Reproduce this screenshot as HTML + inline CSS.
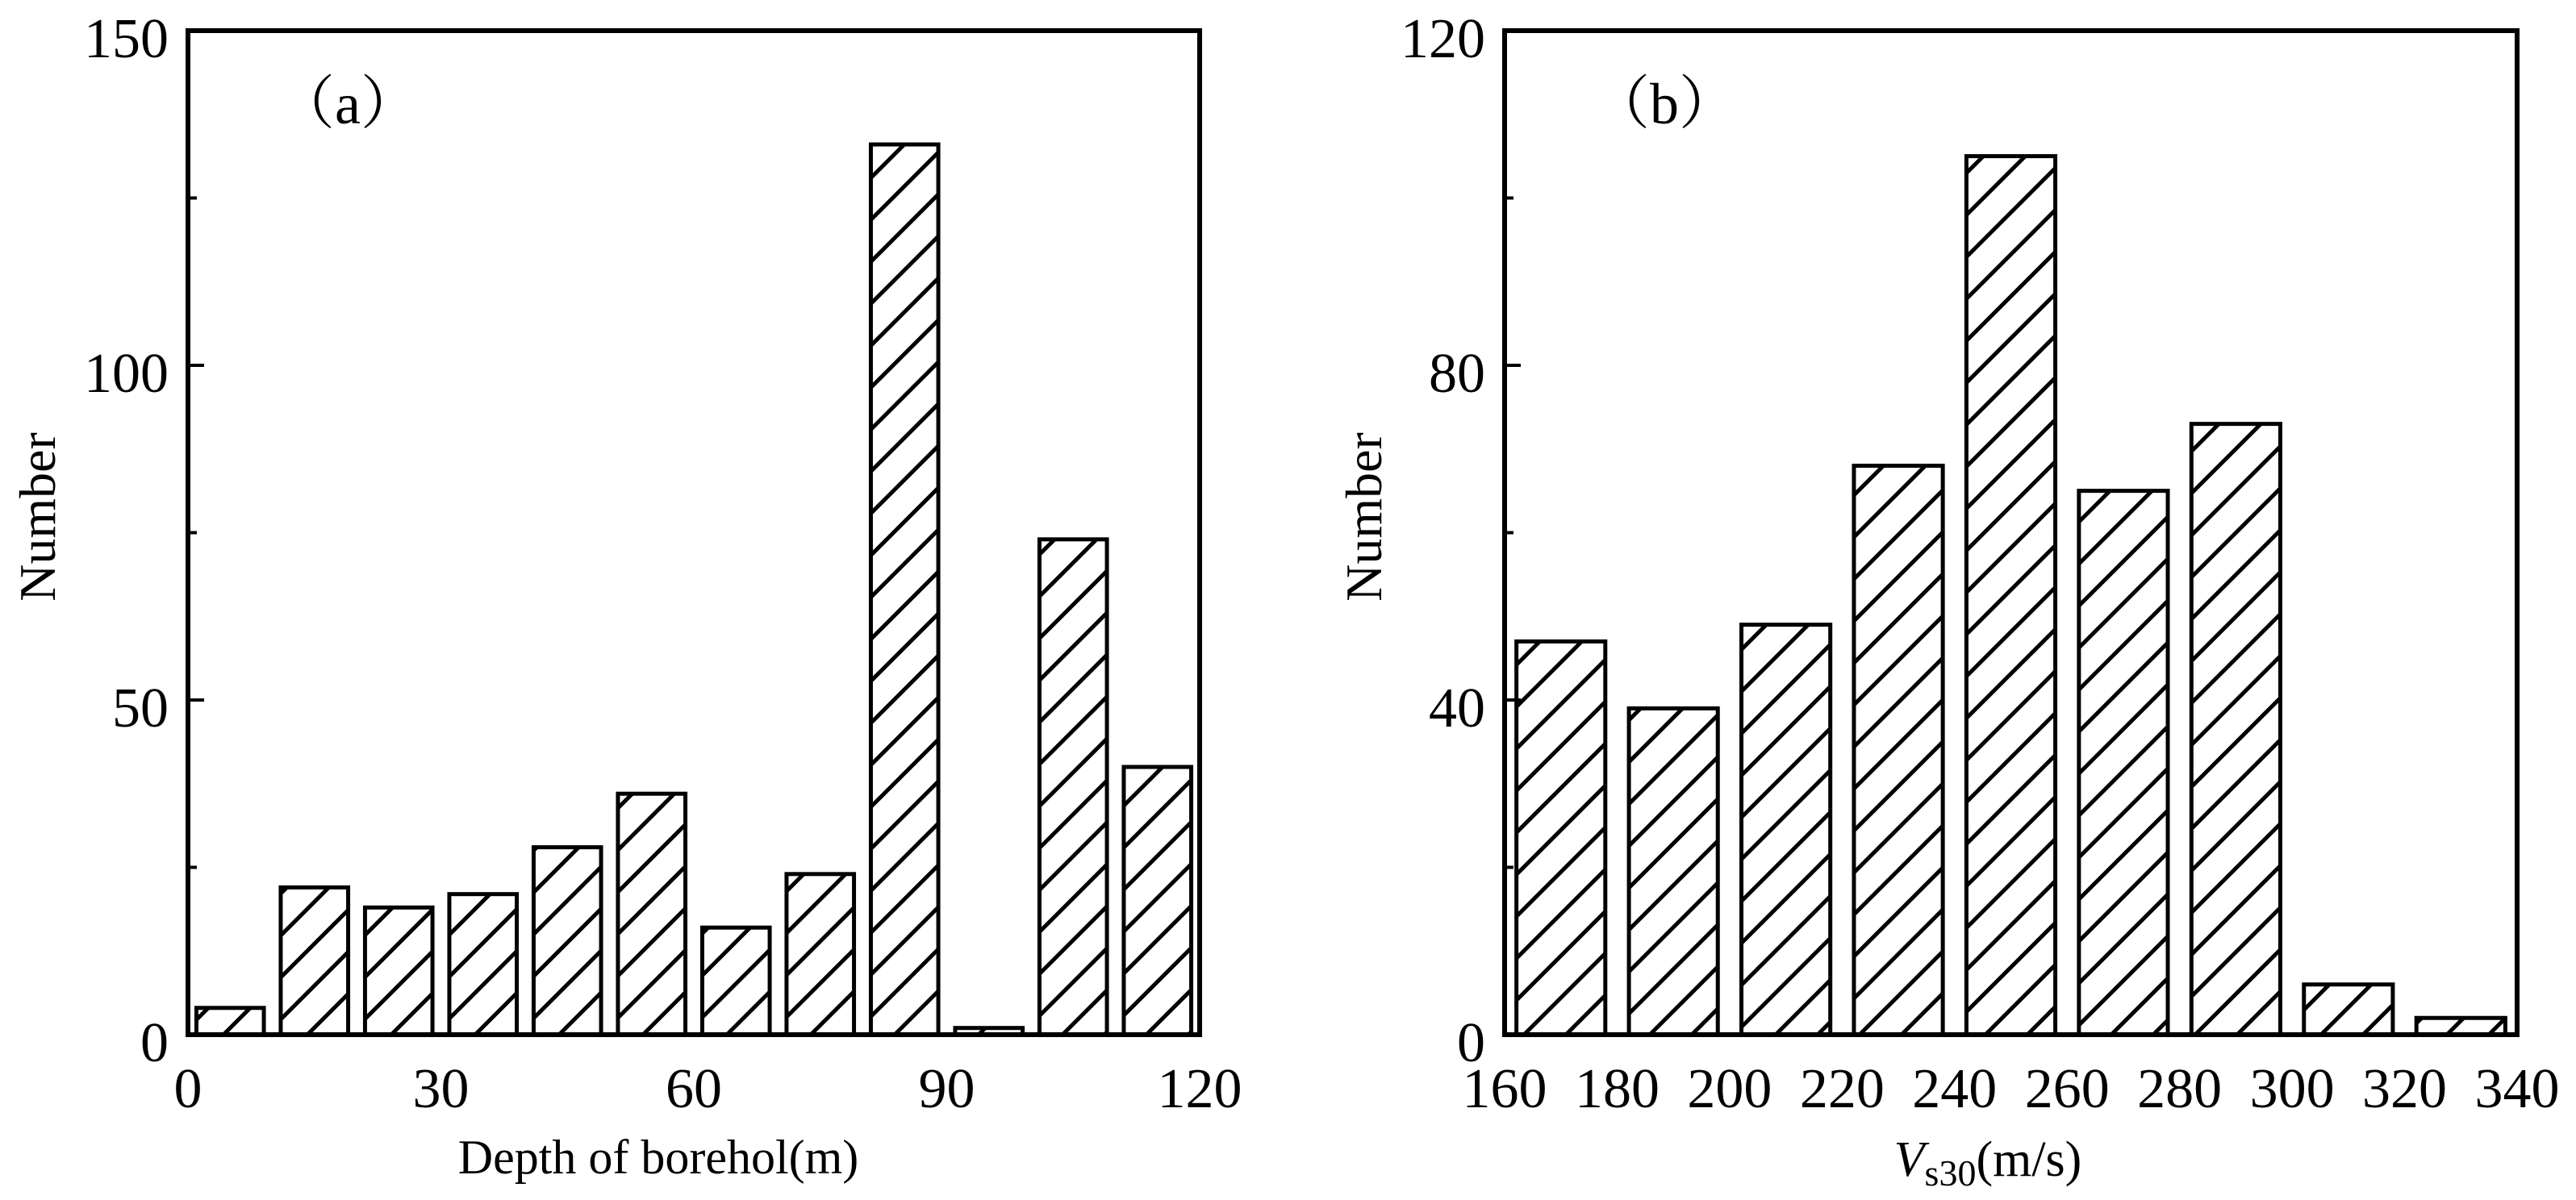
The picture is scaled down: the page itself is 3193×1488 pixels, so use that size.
<!DOCTYPE html>
<html><head><meta charset="utf-8"><style>
html,body{margin:0;padding:0;background:#fff;}
svg{display:block;}
text{font-family:"Liberation Serif","Noto Serif CJK SC",serif;fill:#000;}
</style></head><body>
<svg id="chart" width="3193" height="1488" viewBox="0 0 3193 1488" xmlns="http://www.w3.org/2000/svg">
<defs>
<pattern id="hatch" patternUnits="userSpaceOnUse" width="52" height="52">
<path d="M-13,13 L13,-13 M0,52 L52,0 M39,65 L65,39" stroke="#000" stroke-width="5"/>
</pattern>
</defs>
<g id="panelA"></g>
<g id="panelB"></g>
</svg>
<script>
// Panel (a) data
const aBinEdges = [0, 10, 20, 30, 40, 50, 60, 70, 80, 90, 100, 110, 120];
const aCounts = [4, 22, 19, 21, 28, 36, 16, 24, 133, 1, 74, 40];
const aXTicks = [0, 30, 60, 90, 120];
const aYTicks = [0, 50, 100, 150];
const aYMinor = [25, 75, 125];
// Panel (b) data
const bBinEdges = [160, 180, 200, 220, 240, 260, 280, 300, 320, 340];
const bCounts = [47, 39, 49, 68, 105, 65, 73, 6, 2];
const bXTicks = [160, 180, 200, 220, 240, 260, 280, 300, 320, 340];
const bYTicks = [0, 40, 80, 120];
const bYMinor = [20, 60, 100];

const NS = "http://www.w3.org/2000/svg";
function mk(tag, attrs, parent){
  const e = document.createElementNS(NS, tag);
  for (const k in attrs) e.setAttribute(k, attrs[k]);
  parent.appendChild(e);
  return e;
}

function drawPanel(g, o){
  const xs = v => o.x0 + (v - o.xmin) / (o.xmax - o.xmin) * (o.x1 - o.x0);
  const ys = v => o.y0 - (v - o.ymin) / (o.ymax - o.ymin) * (o.y0 - o.y1);
  // bars
  for (let i = 0; i < o.counts.length; i++){
    const l = xs(o.edges[i]), r = xs(o.edges[i+1]);
    const w = (r - l) * o.frac;
    const bx = (l + r) / 2 - w / 2;
    const top = ys(o.counts[i]);
    const bar = mk('rect', {x: bx, y: top, width: w, height: o.y0 - top, fill: 'url(#hatch)', stroke: '#000', 'stroke-width': 5}, g);
    
    
  }
  // frame
  const frame = mk('rect', {x: o.x0, y: o.y1, width: o.x1 - o.x0, height: o.y0 - o.y1, fill: 'none', stroke: '#000', 'stroke-width': 6}, g);
  
  
  // y ticks
  o.yTicks.forEach(v => {
    const y = ys(v);
    const t = mk('line', {x1: o.x0, x2: o.x0 + 20, y1: y, y2: y, stroke: '#000', 'stroke-width': 4}, g);
    
    
    const lab = mk('text', {x: o.x0 - 24, y: y + 33, 'text-anchor': 'end', 'font-size': 70}, g);
    lab.textContent = v;
    
    
  });
  o.yMinor.forEach(v => {
    const y = ys(v);
    const t = mk('line', {x1: o.x0, x2: o.x0 + 11, y1: y, y2: y, stroke: '#000', 'stroke-width': 4}, g);
    
    
  });
  // x labels
  o.xTicks.forEach(v => {
    const lab = mk('text', {x: xs(v), y: 1373, 'text-anchor': 'middle', 'font-size': 70}, g);
    lab.textContent = v;
    
    
  });
  // y title
  const yt = mk('text', {x: 0, y: 0, 'text-anchor': 'middle', 'font-size': 64, transform: 'translate(' + o.ytX + ',641) rotate(-90)'}, g);
  yt.textContent = 'Number';
  
  
  // panel label
  const pl = mk('text', {x: o.x0 + 198, y: 153, 'text-anchor': 'middle', 'font-size': 72}, g);
  pl.textContent = o.label;
  
  
}

const gA = document.getElementById('panelA');
drawPanel(gA, {prefix:'a', x0:233, x1:1487, y0:1283, y1:38, xmin:0, xmax:120, ymin:0, ymax:150,
  edges:aBinEdges, counts:aCounts, xTicks:aXTicks, yTicks:aYTicks, yMinor:aYMinor, frac:0.8, ytX:68, label:'（a）'});
const xtA = mk('text', {x: 816, y: 1455, 'text-anchor': 'middle', 'font-size': 60}, gA);
xtA.textContent = 'Depth of borehol(m)';



const gB = document.getElementById('panelB');
drawPanel(gB, {prefix:'b', x0:1865, x1:3120, y0:1283, y1:38, xmin:160, xmax:340, ymin:0, ymax:120,
  edges:bBinEdges, counts:bCounts, xTicks:bXTicks, yTicks:bYTicks, yMinor:bYMinor, frac:0.79, ytX:1712, label:'（b）'});
const xtB = mk('text', {x: 2464, y: 1458, 'text-anchor': 'middle', 'font-size': 62}, gB);


const tV = mk('tspan', {'font-style': 'italic'}, xtB); tV.textContent = 'V';
const tS = mk('tspan', {'font-size': 46, dy: 12}, xtB); tS.textContent = 's30';
const tU = mk('tspan', {dy: -12}, xtB); tU.textContent = '(m/s)';
</script>
</body></html>
